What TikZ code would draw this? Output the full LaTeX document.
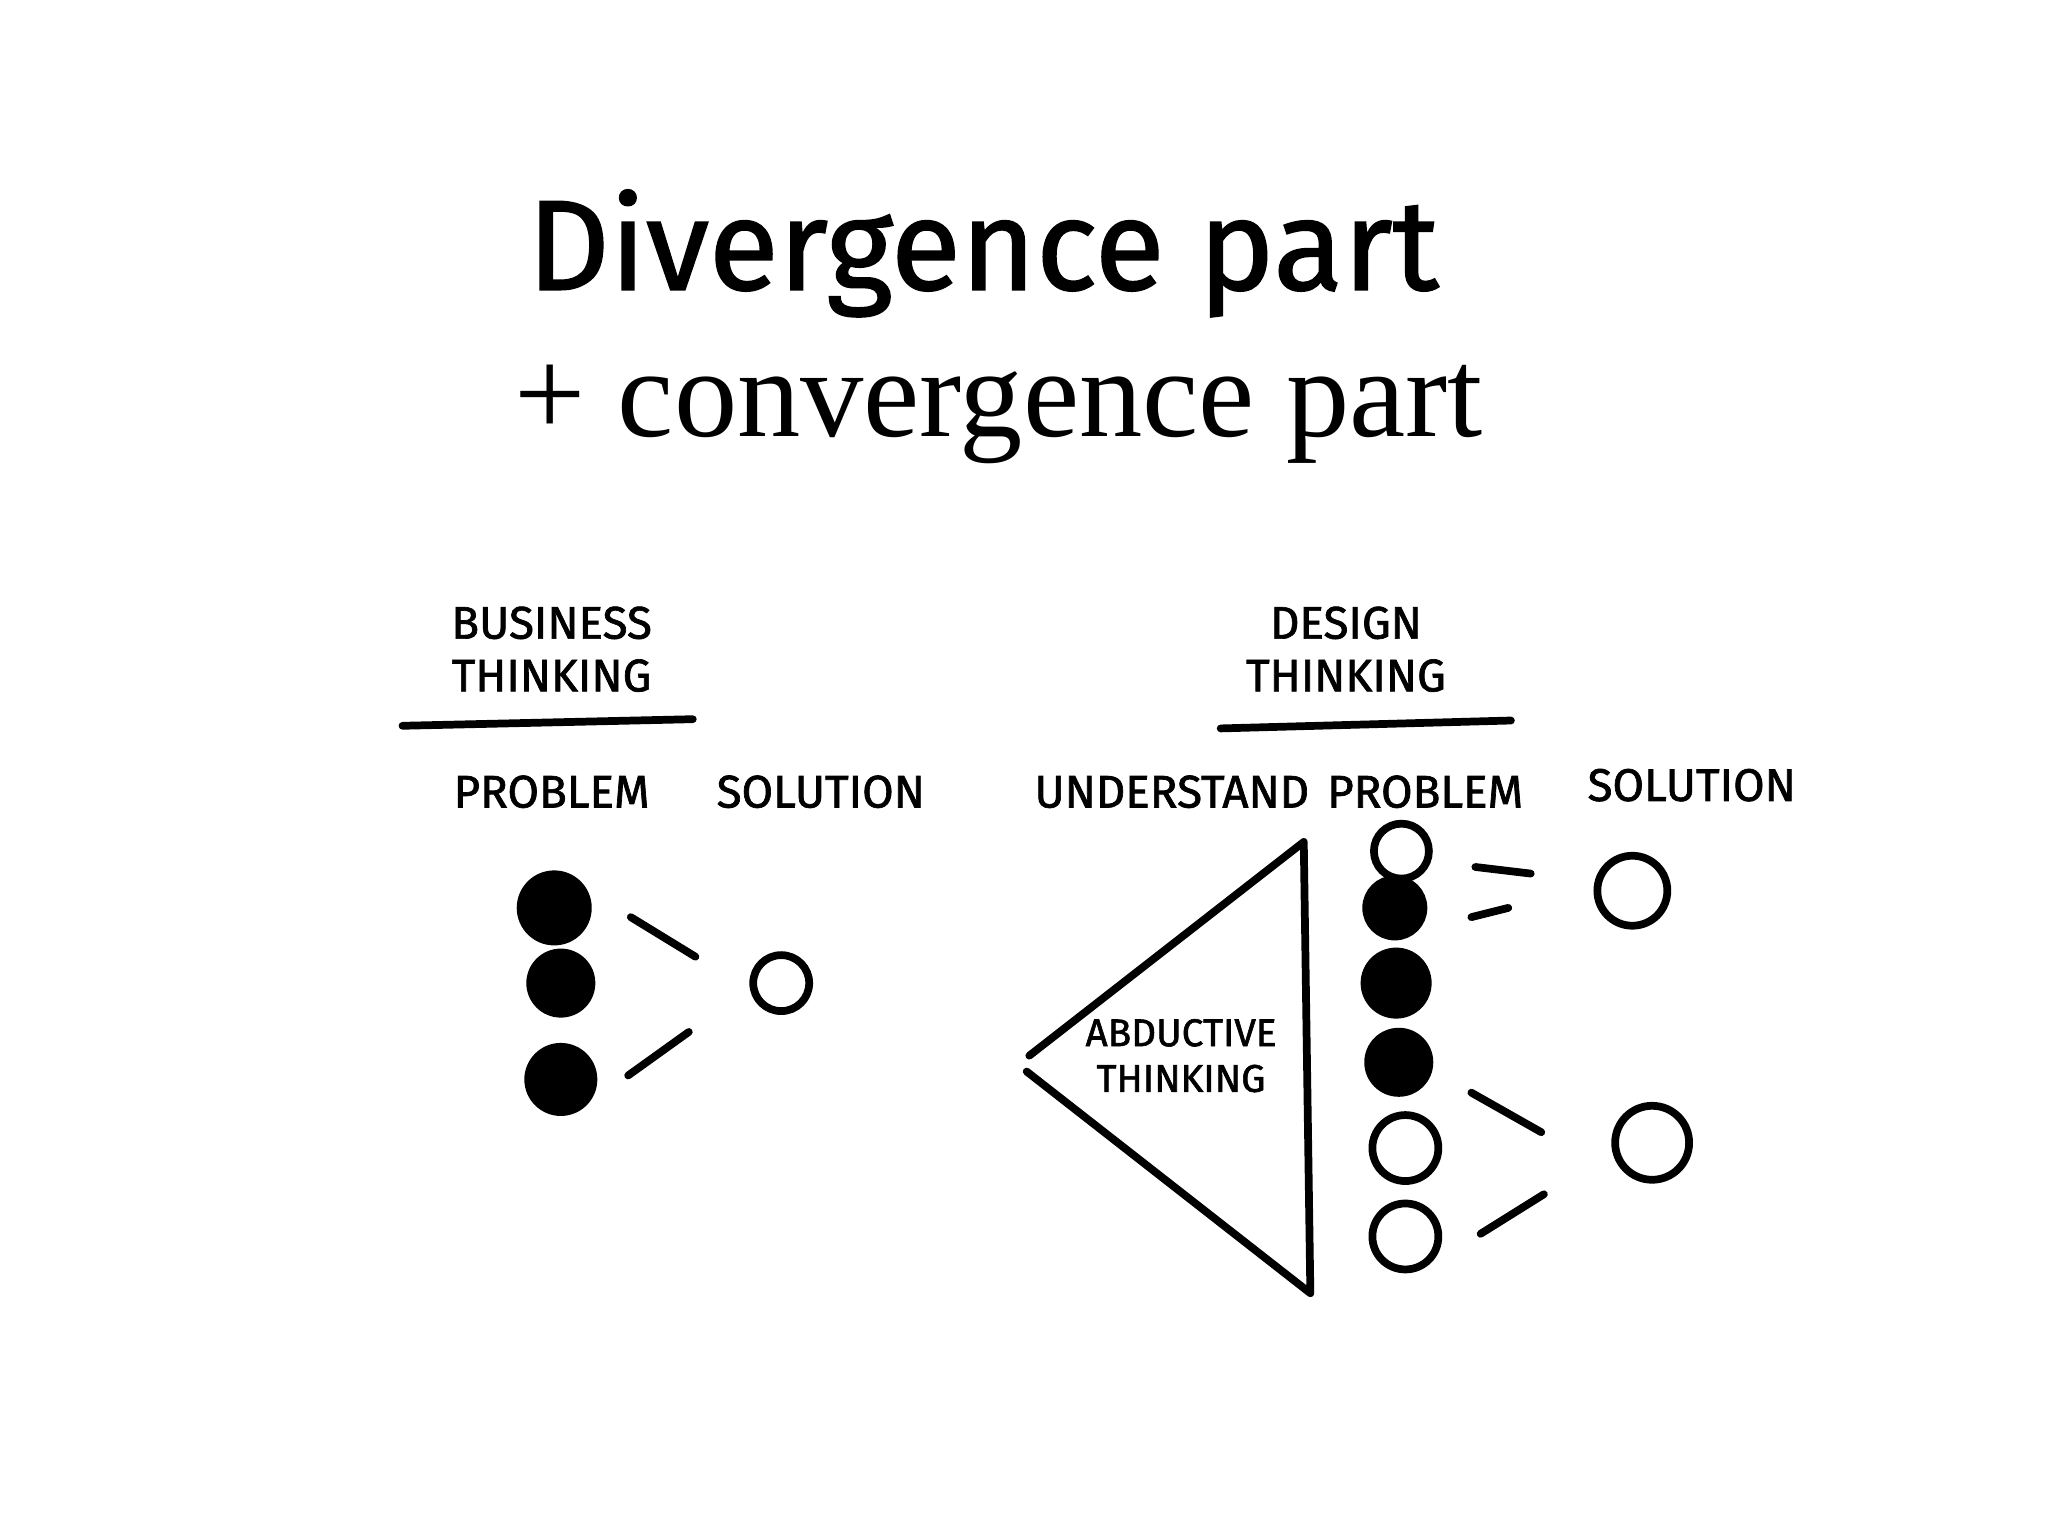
\documentclass[tikz,border=0pt]{standalone}
\usepackage{fontspec}
\setmainfont{Liberation Serif}
\newfontfamily\titlefont[FakeBold=1.2]{Fira Sans}
\newfontfamily\handfont[FakeBold=1.5]{Fira Sans}
\begin{document}
\begin{tikzpicture}[x=0.013196cm,y=-0.013196cm,
  hand/.style={font=\handfont\fontsize{13}{15}\selectfont},
  pen/.style={line width=2.2pt,line cap=round},
  fullc/.style={circle,draw,fill=black,line width=2pt,inner sep=0pt,minimum size=1.3cm},
  openc/.style={circle,draw,line width=2.2pt,inner sep=0pt,minimum size=0.85cm}]
\useasboundingbox (0,0) rectangle (1552,1164);
\node (t1) at (745,192) {\titlefont\fontsize{36.5}{42}\selectfont Divergence part};
\node (t2) at (757,314) {\fontsize{36}{42}\selectfont + convergence part};
% left
\node[hand,align=center] (bt) at (418,492) {BUSINESS\\THINKING};
\coordinate (u1a) at (305,550); \coordinate (u1b) at (525,545);
\draw[pen] (u1a) -- (u1b);
\node[hand] (p1) at (418,600) {PROBLEM};
\node[hand] (s1) at (622,600) {SOLUTION};
\node[fullc,minimum size=0.68cm] (f1) at (420,688) {};
\node[fullc,minimum size=0.62cm] (f2) at (425,745) {};
\node[fullc,minimum size=0.66cm] (f3) at (425,818) {};
\node[openc,minimum size=0.56cm] (o1) at (592,745) {};
\coordinate (l1a) at (478,695); \coordinate (l1b) at (527,725);
\coordinate (l2a) at (476,815); \coordinate (l2b) at (522,782);
\draw[pen] (l1a) -- (l1b); \draw[pen] (l2a) -- (l2b);
% right
\node[hand,align=center] (dt) at (1020,492) {DESIGN\\THINKING};
\coordinate (u2a) at (925,552); \coordinate (u2b) at (1145,546);
\draw[pen] (u2a) -- (u2b);
\node[hand] (un) at (888,600) {UNDERSTAND};
\node[hand] (p2) at (1080,600) {PROBLEM};
\node[hand] (s2) at (1282,595) {SOLUTION};
\coordinate (ta) at (988,638); \coordinate (tb) at (780,800);
\coordinate (tc) at (778,812); \coordinate (td) at (993,980);
\draw[pen,line join=round] (tb) -- (ta) -- (td) -- (tc);
\node[hand,align=center,font=\handfont\fontsize{11}{13}\selectfont] (ab) at (895,800) {ABDUCTIVE\\THINKING};
\node[openc,minimum size=0.55cm] (r1) at (1062,645) {};
\node[fullc,minimum size=0.58cm] (r2) at (1057,688) {};
\node[fullc,minimum size=0.64cm] (r3) at (1058,745) {};
\node[fullc,minimum size=0.62cm] (r4) at (1060,805) {};
\node[openc,minimum size=0.66cm] (r5) at (1065,870) {};
\node[openc,minimum size=0.66cm] (r6) at (1065,937) {};
\node[openc,minimum size=0.7cm] (s3) at (1237,675) {};
\node[openc,minimum size=0.74cm] (s4) at (1252,866) {};
\coordinate (m1a) at (1118,657); \coordinate (m1b) at (1160,662);
\coordinate (m2a) at (1115,695); \coordinate (m2b) at (1143,688);
\coordinate (m3a) at (1115,828); \coordinate (m3b) at (1168,858);
\coordinate (m4a) at (1122,935); \coordinate (m4b) at (1170,905);
\draw[pen] (m1a) -- (m1b); \draw[pen] (m2a) -- (m2b);
\draw[pen] (m3a) -- (m3b); \draw[pen] (m4a) -- (m4b);
\end{tikzpicture}
\end{document}
